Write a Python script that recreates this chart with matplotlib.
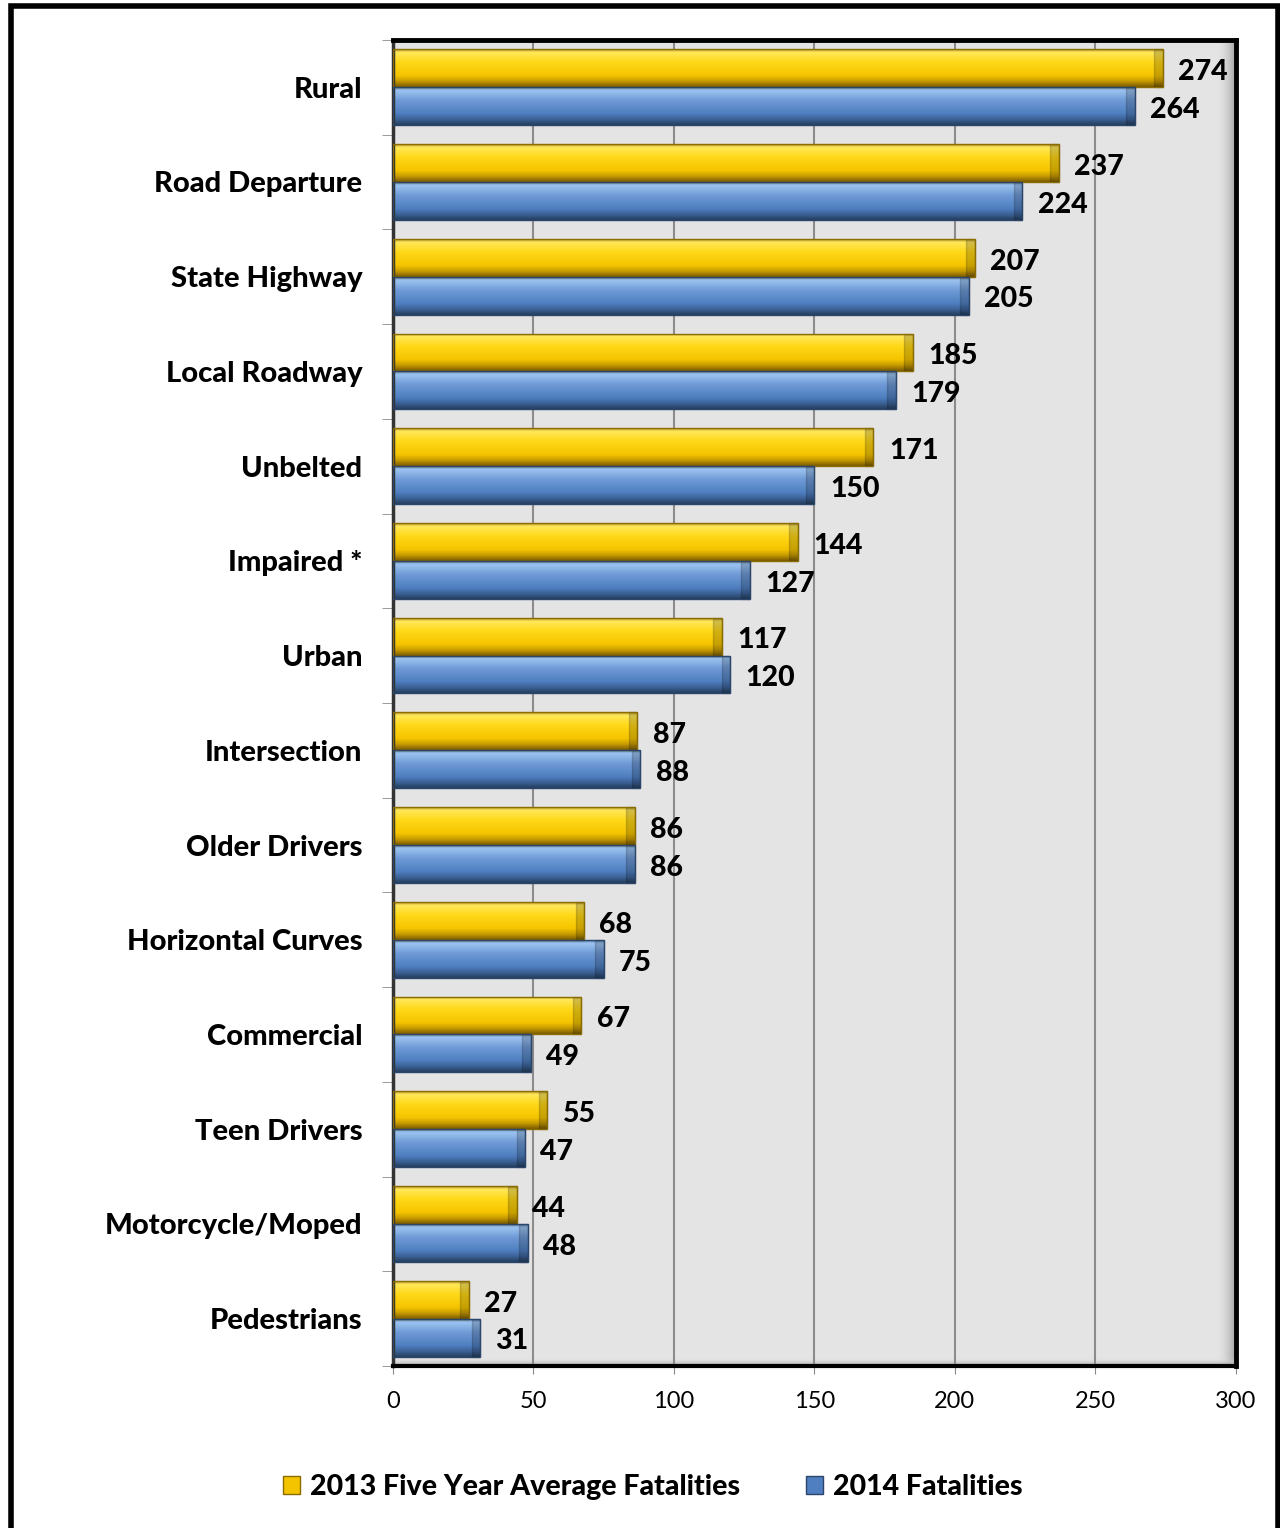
import numpy as np
import matplotlib.pyplot as plt
from matplotlib.colors import LinearSegmentedColormap
from matplotlib.patches import Patch, Rectangle

plt.rcParams['font.family'] = ['Lato', 'DejaVu Sans']

categories = ['Rural', 'Road Departure', 'State Highway', 'Local Roadway', 'Unbelted',
              'Impaired *', 'Urban', 'Intersection', 'Older Drivers', 'Horizontal Curves',
              'Commercial', 'Teen Drivers', 'Motorcycle/Moped', 'Pedestrians']
avg_2013 = [274, 237, 207, 185, 171, 144, 117, 87, 86, 68, 67, 55, 44, 27]
fat_2014 = [264, 224, 205, 179, 150, 127, 120, 88, 86, 75, 49, 47, 48, 31]
series_names = ['2013 Five Year Average Fatalities', '2014 Fatalities']
xticks = [0, 50, 100, 150, 200, 250, 300]

gold_cmap = LinearSegmentedColormap.from_list('gold', [
    (0.0, '#b8962a'), (0.08, '#ffe85a'), (0.35, '#ffd817'), (0.7, '#f5c400'),
    (0.85, '#c99c00'), (1.0, '#7a5c00')])
blue_cmap = LinearSegmentedColormap.from_list('blue', [
    (0.0, '#5d7fae'), (0.08, '#9cc3f0'), (0.35, '#6f9ad6'), (0.7, '#4f7fc0'),
    (0.85, '#3c6399'), (1.0, '#26405f')])
shade_cmap = LinearSegmentedColormap.from_list('shade', ['#e4e4e400', '#a0a0a0'])

fig = plt.figure(figsize=(12.8, 15.28), dpi=100)
ax = fig.add_axes([0.307, 0.106, 0.6585, 0.8679])
ax.set_facecolor('#e4e4e4')

n = len(categories)
y = np.arange(n)
h = 0.4
grad = np.linspace(0, 1, 64).reshape(-1, 1)

# soft inner shadow along the right and bottom of the plot area
ax.imshow(np.linspace(0, 1, 32).reshape(1, -1), extent=[293, 300, n - 0.5, -0.5],
          aspect='auto', cmap=shade_cmap, zorder=0.5)
ax.imshow(np.linspace(0, 1, 32).reshape(-1, 1), extent=[0, 300, n - 0.5, n - 0.58],
          aspect='auto', cmap=shade_cmap, zorder=0.5)


def draw_bars(vals, offset, cmap, edge):
    bars = ax.barh(y + offset, vals, height=h, color='none', edgecolor=edge,
                   linewidth=1.0, zorder=3)
    for b in bars:
        x0, y0 = b.get_x(), b.get_y()
        w, hh = b.get_width(), b.get_height()
        im = ax.imshow(grad, extent=[x0, x0 + w, y0 + hh, y0], aspect='auto',
                       cmap=cmap, zorder=2, interpolation='bilinear')
        im.set_clip_path(b)
        # darker bevel at the right end
        ax.add_patch(Rectangle((x0 + w - 3, y0), 3, hh, color='black', alpha=0.18,
                               zorder=2.5, clip_path=b))
    return bars


draw_bars(avg_2013, -h / 2, gold_cmap, '#8a6c00')
draw_bars(fat_2014, h / 2, blue_cmap, '#2c466b')

for i in range(n):
    ax.text(avg_2013[i] + 5.5, y[i] - h / 2 + 0.04, str(avg_2013[i]), va='center', ha='left',
            fontsize=20.5, fontweight='black', zorder=4)
    ax.text(fat_2014[i] + 5.5, y[i] + h / 2 + 0.04, str(fat_2014[i]), va='center', ha='left',
            fontsize=20.5, fontweight='black', zorder=4)

ax.set_xlim(0, 300)
ax.set_ylim(n - 0.5, -0.5)
ax.set_xticks(xticks)
ax.set_xticklabels([str(t) for t in xticks], fontsize=17)
ax.tick_params(axis='x', length=6, color='#888888', pad=12)
ax.xaxis.grid(True, color='#8c8c8c', linewidth=1.5, zorder=1)
ax.set_axisbelow(True)

ax.set_yticks(y)
ax.set_yticklabels(categories, fontsize=21, fontweight='black')
ax.set_yticks(np.arange(n + 1) - 0.5, minor=True)
ax.tick_params(axis='y', which='major', length=0, pad=22)
ax.tick_params(axis='y', which='minor', length=8, color='#888888')

for s in ['top', 'right']:
    ax.spines[s].set_linewidth(3.5)
    ax.spines[s].set_color('black')
ax.spines['left'].set_linewidth(2.5)
ax.spines['left'].set_color('#333333')
ax.spines['bottom'].set_linewidth(3)
ax.spines['bottom'].set_color('black')

# outer frame of the chart
fig.patches.append(Rectangle((0.0085, -0.01), 0.99, 1.006, transform=fig.transFigure,
                             fill=False, edgecolor='black', linewidth=4))

handles = [Patch(facecolor='#f5c400', edgecolor='#8a6c00'),
           Patch(facecolor='#4f7fc0', edgecolor='#2c466b')]
fig.legend(handles, series_names, loc='center', bbox_to_anchor=(0.51, 0.027), ncol=2,
           frameon=False, prop={'size': 20.5, 'weight': 'black'}, handlelength=0.6,
           handleheight=0.6, handletextpad=0.35, columnspacing=2.3)

fig.savefig('out.png', dpi=100)
